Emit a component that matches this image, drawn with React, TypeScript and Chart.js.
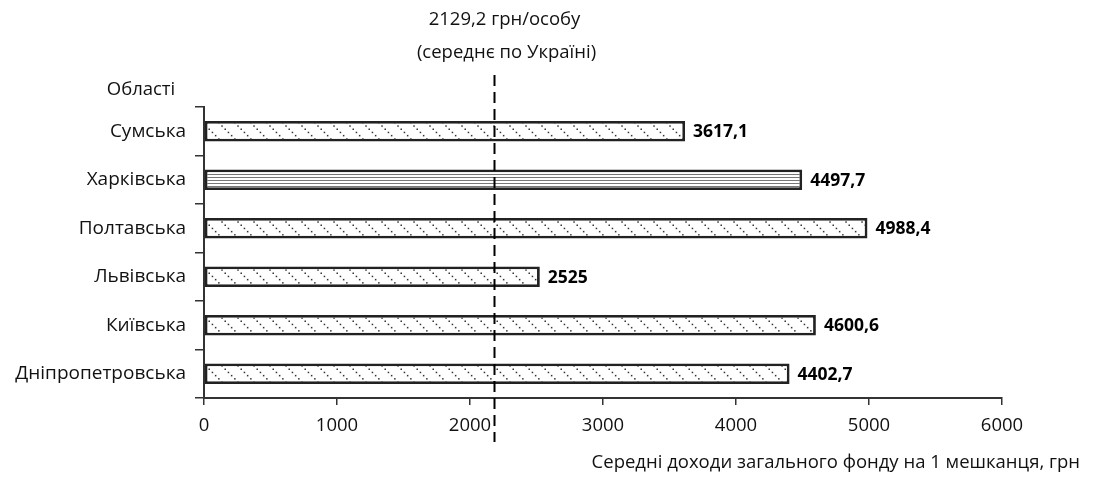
import React, { useEffect, useRef } from "react";
import { Chart, registerables } from "chart.js";

Chart.register(...registerables);

// ---- data ----
const regions = ["Сумська", "Харківська", "Полтавська", "Львівська", "Київська", "Дніпропетровська"];
const incomes = [3617.1, 4497.7, 4988.4, 2525, 4600.6, 4402.7];
const fillKinds = ["dots", "lines", "dots", "dots", "dots", "dots"];
const xMin = 0;
const xMax = 6000;
const xStep = 1000;
const averageValue = 2129.2;
const averageLinePos = 2180; // where the dashed marker sits in the picture
const averageCaption = "(середнє по Україні)";
const yAxisCaption = "Області";
const xAxisCaption = "Середні доходи загального фонду на 1 мешканця, грн";

const FONT = "'Open Sans', 'Noto Sans', sans-serif";
const fmt = (v: number) => String(v).replace(".", ",");

function makePattern(kind: string): CanvasPattern | string {
  const c = document.createElement("canvas");
  const ctx = c.getContext("2d");
  if (!ctx) return "#fff";
  if (kind === "dots") {
    c.width = 16;
    c.height = 16;
    ctx.fillStyle = "#fff";
    ctx.fillRect(0, 0, 16, 16);
    ctx.fillStyle = "#333";
    for (let i = 0; i < 5; i++) {
      ctx.fillRect(i * 3.2 + 0.5, i * 3.2 + 0.5, 1.5, 1.5);
    }
  } else {
    c.width = 8;
    c.height = 3;
    ctx.fillStyle = "#fff";
    ctx.fillRect(0, 0, 8, 3);
    ctx.fillStyle = "#777";
    ctx.fillRect(0, 0, 8, 1);
  }
  const p = ctx.createPattern(c, "repeat");
  return p || "#fff";
}

const overlayPlugin = {
  id: "overlay",
  afterDatasetsDraw(chart: any) {
    const ctx = chart.ctx as CanvasRenderingContext2D;
    const xs = chart.scales.x;
    const meta = chart.getDatasetMeta(0);
    ctx.save();
    // value labels
    ctx.font = `bold 17.5px ${FONT}`;
    ctx.fillStyle = "#000";
    ctx.textAlign = "left";
    ctx.textBaseline = "middle";
    meta.data.forEach((bar: any, i: number) => {
      ctx.fillText(fmt(incomes[i]), bar.x + 8, bar.y + 1);
    });
    // dashed average line
    const lx = Math.round(xs.getPixelForValue(averageLinePos)) + 0.5;
    ctx.strokeStyle = "#000";
    ctx.lineWidth = 2;
    ctx.setLineDash([11, 6]);
    ctx.beginPath();
    ctx.moveTo(lx, 75);
    ctx.lineTo(lx, 442);
    ctx.stroke();
    ctx.setLineDash([]);
    // captions
    ctx.font = `18.5px ${FONT}`;
    ctx.fillStyle = "#111";
    ctx.textAlign = "center";
    ctx.fillText(`${fmt(averageValue)} грн/особу`, lx + 10, 20);
    ctx.fillText(averageCaption, lx + 12, 53);
    ctx.fillText(yAxisCaption, 141, 90);
    ctx.textAlign = "right";
    ctx.fillText(xAxisCaption, 1080, 463);
    ctx.restore();
  },
};

export default function App() {
  const ref = useRef<HTMLCanvasElement>(null);
  useEffect(() => {
    if (!ref.current) return;
    const chart = new Chart(ref.current, {
      type: "bar",
      data: {
        labels: regions,
        datasets: [
          {
            data: incomes,
            backgroundColor: fillKinds.map(makePattern),
            borderColor: "#222",
            borderWidth: 2.8,
            borderSkipped: false,
            barPercentage: 0.42,
            categoryPercentage: 1,
          },
        ],
      },
      options: {
        indexAxis: "y",
        animation: false,
        responsive: false,
        devicePixelRatio: 1,
        layout: { padding: { top: 107, right: 96, left: 0, bottom: 0 } },
        plugins: { legend: { display: false }, tooltip: { enabled: false } },
        scales: {
          x: {
            type: "linear",
            min: xMin,
            max: xMax,
            ticks: {
              stepSize: xStep,
              color: "#111",
              font: { family: FONT, size: 18.5 },
              padding: 10,
              callback: (v: any) => String(v),
            },
            grid: { drawOnChartArea: false, drawTicks: true, tickLength: 7, color: "#333", lineWidth: 1.5 },
            border: { color: "#333", width: 2 },
            afterFit: (s: any) => {
              s.height = 79;
            },
          },
          y: {
            type: "category",
            ticks: { color: "#111", font: { family: FONT, size: 19 }, padding: 9 },
            grid: { offset: true, drawOnChartArea: false, drawTicks: true, tickLength: 9, color: "#333", lineWidth: 1.5 },
            border: { color: "#333", width: 2 },
            afterFit: (s: any) => {
              s.width = 204;
            },
          },
        },
      },
      plugins: [overlayPlugin],
    });
    return () => chart.destroy();
  }, []);
  return (
    <div style={{ position: "fixed", left: 0, top: 0, width: 1098, height: 477, background: "#fff" }}>
      <canvas ref={ref} width={1098} height={477} style={{ display: "block" }} />
    </div>
  );
}
